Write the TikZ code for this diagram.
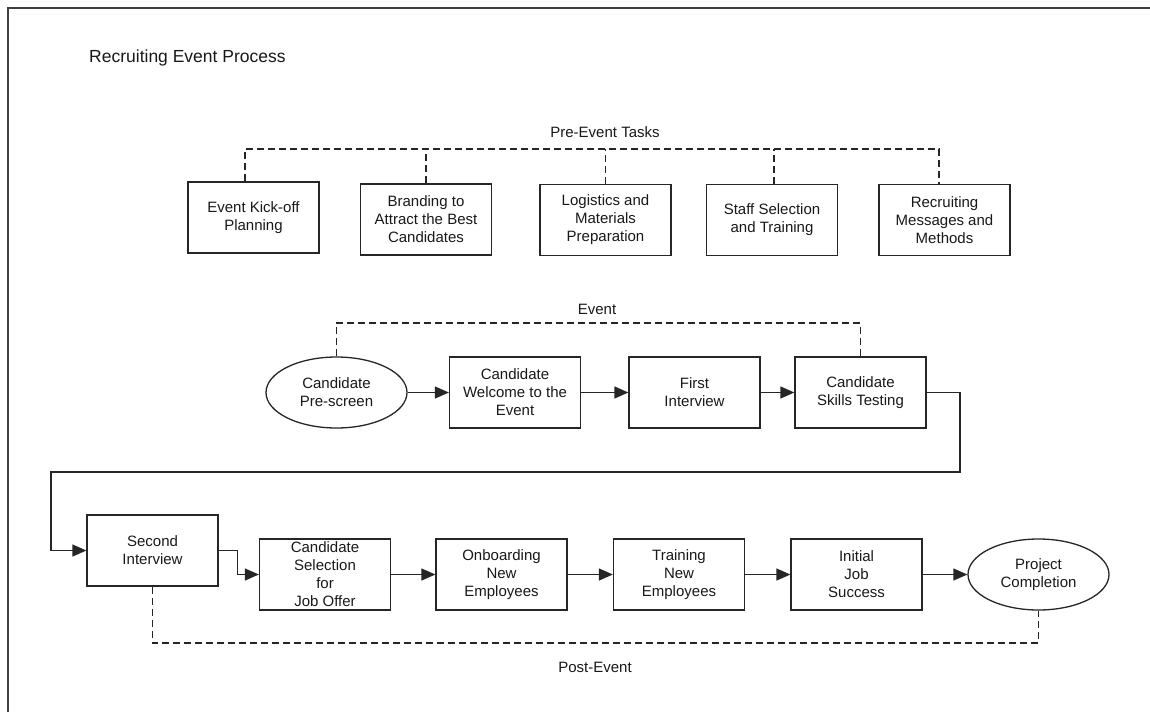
\documentclass[tikz,border=0pt]{standalone}
\usepackage{fontspec}
\setmainfont{Liberation Sans}
\usetikzlibrary{shapes.geometric,arrows.meta}
\begin{document}
\begin{tikzpicture}[x=1pt,y=-1pt,
  every node/.style={font=\fontsize{15}{18}\selectfont, text=black!90},
  taskbox/.style={draw=black!85, line width=1.3pt, rectangle, minimum width=131pt, minimum height=71pt, align=center, inner sep=1pt},
  termnode/.style={draw=black!85, line width=1.3pt, ellipse, minimum width=141pt, minimum height=71pt, align=center, inner sep=1pt},
  flow/.style={draw=black!85, line width=1.3pt, -{Triangle[length=14pt,width=12pt]}},
  dashy/.style={draw=black!85, line width=1.2pt, dash pattern=on 7pt off 4pt},
  lbl/.style={inner sep=0pt}
]
\useasboundingbox (0,0) rectangle (1150,712);
\fill[white] (0,0) rectangle (1150,712);
% frame (top and left only)
\coordinate (fbl) at (8,712);
\coordinate (ftl) at (8,8);
\coordinate (ftr) at (1150,8);
\draw[black!75, line width=1.5pt] (fbl) -- (ftl) -- (ftr);

\node[lbl, font=\fontsize{17.5}{20}\selectfont, anchor=west] (title) at (89,58) {Recruiting Event Process};

% Pre-event tasks
\node[taskbox] (k1) at (253.5,217.5) {Event Kick-off\\Planning};
\node[taskbox] (k2) at (426,219.5) {Branding to\\Attract the Best\\Candidates};
\node[taskbox] (k3) at (605.5,220) {Logistics and\\Materials\\Preparation};
\node[taskbox] (k4) at (772,220) {Staff Selection\\and Training};
\node[taskbox] (k5) at (944.5,220) {Recruiting\\Messages and\\Methods};
\coordinate (pre) at (605,149);
\node[lbl] (prelbl) at (605,132) {Pre-Event Tasks};
\draw[dashy] ([xshift=-8.5pt]k1.north) |- (pre) -| ([xshift=-5.5pt]k5.north);
\draw[dashy] (k2.north) -- (k2.north |- pre);
\draw[dashy] (k3.north) -- (k3.north |- pre);
\draw[dashy] ([xshift=2pt]k4.north) -- ([xshift=2pt]k4.north |- pre);

% Event
\node[termnode] (e1) at (336.5,392.5) {Candidate\\Pre-screen};
\node[taskbox] (e2) at (515,392.5) {Candidate\\Welcome to the\\Event};
\node[taskbox] (e3) at (694.5,392.5) {First\\Interview};
\node[taskbox] (e4) at (860.5,392.5) {Candidate\\Skills Testing};
\coordinate (ev) at (597,323);
\node[lbl] (evlbl) at (597,309) {Event};
\draw[dashy] (e1.north) |- (ev) -| (e4.north);
\draw[flow] (e1) -- (e2);
\draw[flow] (e2) -- (e3);
\draw[flow] (e3) -- (e4);

% Post event
\node[taskbox] (p1) at (152.5,550.5) {Second\\Interview};
\node[taskbox] (p2) at (325,574.5) {Candidate\\Selection\\for\\Job Offer};
\node[taskbox] (p3) at (501.5,574.5) {Onboarding\\New\\Employees};
\node[taskbox] (p4) at (679,574.5) {Training\\New\\Employees};
\node[taskbox] (p5) at (856.5,574.5) {Initial\\Job\\Success};
\node[termnode] (p6) at (1038.5,574.5) {Project\\Completion};

\coordinate (r1) at (960,472);
\coordinate (l1) at (51,472);
\draw[flow] (e4.east) -| (r1) -- (l1) |- (p1.west);
\draw[flow] (p1.east) -- ++(19,0) |- (p2.west);
\draw[flow] (p2) -- (p3);
\draw[flow] (p3) -- (p4);
\draw[flow] (p4) -- (p5);
\draw[flow] (p5) -- (p6);

\coordinate (post) at (595,643);
\node[lbl] (postlbl) at (595,667) {Post-Event};
\draw[dashy] (p1.south) |- (post) -| (p6.south);
\end{tikzpicture}
\end{document}
